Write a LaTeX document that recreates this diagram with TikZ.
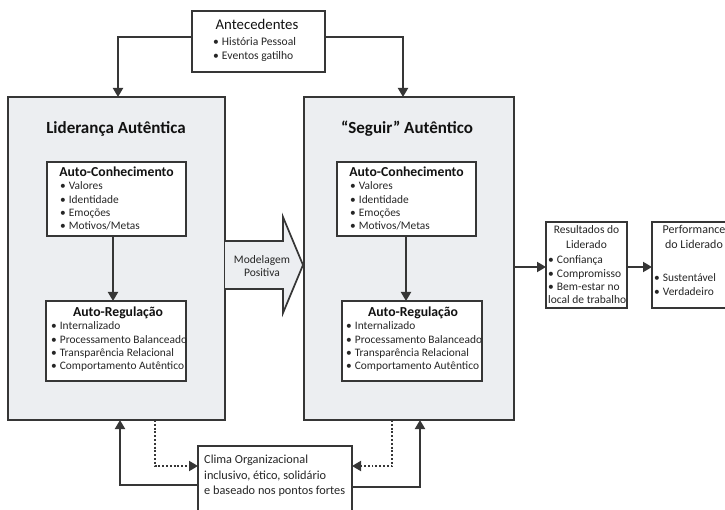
\documentclass[tikz,border=0pt]{standalone}
\usepackage{fontspec}
\setmainfont{Carlito}
\usetikzlibrary{arrows.meta,calc}
\definecolor{ink}{HTML}{363636}
\definecolor{panel}{HTML}{ECEEF1}
\definecolor{txt}{HTML}{111111}
\definecolor{itemtxt}{HTML}{262626}
\newcommand\ptitem[1]{\textbullet\hspace{3pt}#1}

\begin{document}
\begin{tikzpicture}[x=1pt,y=-1pt,
  box/.style={draw=ink,line width=1.8pt,inner sep=0pt,outer sep=0pt,anchor=north west},
  panelbox/.style={box,fill=panel},
  whitebox/.style={box,fill=white,line width=1.7pt},
  conn/.style={draw=ink,line width=1.9pt,-{Triangle[length=9pt,width=10pt]}},
  dotconn/.style={conn,dash pattern=on 1.9pt off 1.9pt},
  bigtitle/.style={font=\fontsize{17}{20}\selectfont\bfseries,text=txt,anchor=base,inner sep=0pt},
  subtitle/.style={font=\fontsize{13.7}{16}\selectfont\bfseries,text=txt,anchor=base,inner sep=0pt},
  itemlist/.style={font=\fontsize{11.4}{13.4}\selectfont,text=itemtxt,align=left,anchor=north west,inner sep=0pt},
]
\useasboundingbox (0,0) rectangle (725,510);
\clip (0,0) rectangle (725,510);

% main panels
\node[panelbox,minimum width=217pt,minimum height=323pt] (lider) at (8,97) {};
\node[panelbox,minimum width=210pt,minimum height=323pt] (seguir) at (304,97) {};

% "Modelagem Positiva" block arrow between the panels
\filldraw[fill=panel,draw=ink,line width=1.7pt,line join=miter]
  (225,241) -- (283,241) -- (283,217) -- (303,265) -- (283,313) -- (283,289) -- (225,289);
\node[font=\fontsize{11.5}{13}\selectfont,text=itemtxt,align=center,inner sep=0pt] (modelo) at (262,266) {Modelagem\\Positiva};

% antecedents
\node[box,fill=white,minimum width=133pt,minimum height=61pt] (ante) at (192,11) {};
\node[font=\fontsize{14.8}{17}\selectfont,text=txt,anchor=base,inner sep=0pt] (antetitle) at (257,30) {Antecedentes};
\node[itemlist,font=\fontsize{11.6}{14}\selectfont] (antelist) at (213,37.5) {\ptitem{História Pessoal}\\\ptitem{Eventos gatilho}};

% panel titles
\node[bigtitle] (lidertitle) at (116,134) {Liderança Autêntica};
\node[bigtitle] (seguirtitle) at (407,134) {“Seguir” Autêntico};

% inner boxes, left panel
\node[whitebox,minimum width=139pt,minimum height=74pt] (akL) at (47,162) {};
\node[subtitle] (akLtitle) at (116.5,177) {Auto-Conhecimento};
\node[itemlist] (akLlist) at (60,181.5) {\ptitem{Valores}\\\ptitem{Identidade}\\\ptitem{Emoções}\\\ptitem{Motivos/Metas}};

\node[whitebox,minimum width=140pt,minimum height=80pt] (arL) at (46,301) {};
\node[subtitle] (arLtitle) at (118,317) {Auto-Regulação};
\node[itemlist] (arLlist) at (51,321.5) {\ptitem{Internalizado}\\\ptitem{Processamento Balanceado}\\\ptitem{Transparência Relacional}\\\ptitem{Comportamento Autêntico}};

% inner boxes, right panel
\node[whitebox,minimum width=139pt,minimum height=74pt] (akR) at (337,162) {};
\node[subtitle] (akRtitle) at (406.5,177) {Auto-Conhecimento};
\node[itemlist] (akRlist) at (350,181.5) {\ptitem{Valores}\\\ptitem{Identidade}\\\ptitem{Emoções}\\\ptitem{Motivos/Metas}};

\node[whitebox,minimum width=140pt,minimum height=80pt] (arR) at (342,301) {};
\node[subtitle] (arRtitle) at (413,317) {Auto-Regulação};
\node[itemlist] (arRlist) at (346,321.5) {\ptitem{Internalizado}\\\ptitem{Processamento Balanceado}\\\ptitem{Transparência Relacional}\\\ptitem{Comportamento Autêntico}};

% outcomes
\node[whitebox,minimum width=81pt,minimum height=86pt] (res) at (546,222) {};
\node[font=\fontsize{11.5}{14.5}\selectfont,text=itemtxt,align=center,anchor=north,inner sep=0pt] (restitle) at (586.5,225.5) {Resultados do\\Liderado};
\node[itemlist,font=\fontsize{11.5}{13.4}\selectfont] (reslist) at (548,255.5) {\ptitem{Confiança}\\\ptitem{Compromisso}\\\ptitem{Bem-estar no}\\local de trabalho};

\node[whitebox,minimum width=82pt,minimum height=86pt] (perf) at (652,222) {};
\node[font=\fontsize{12}{14.5}\selectfont,text=itemtxt,align=center,anchor=north,inner sep=0pt] (perftitle) at (694,225.5) {Performance\\do Liderado};
\node[itemlist] (perflist) at (654,273.5) {\ptitem{Sustentável}\\\ptitem{Verdadeiro}};

% organisational climate
\node[whitebox,minimum width=154pt,minimum height=80pt] (clima) at (198,446) {};
\node[itemlist,font=\fontsize{12.3}{15.5}\selectfont] (climatext) at (204,455) {Clima Organizacional\\inclusivo, ético, solidário\\e baseado nos pontos fortes};

% bend points of the connectors
\coordinate (aL) at (118,37);
\coordinate (aR) at (403,37);
\coordinate (kL) at (113,0);
\coordinate (kR) at (406,0);
\coordinate (cL) at (120,485);
\coordinate (dL) at (155,466);
\coordinate (dR) at (392,466);
\coordinate (cR) at (420,487);
\coordinate (rY) at (0,267);

% connectors
\draw[conn] (ante.west |- aL) -| (aL |- lider.north);
\draw[conn] (ante.east |- aR) -| (aR |- seguir.north);
\draw[conn] (kL |- akL.south) -- (kL |- arL.north);
\draw[conn] (kR |- akR.south) -- (kR |- arR.north);
\draw[conn] (seguir.east |- rY) -- (res.west |- rY);
\draw[conn] (res.east |- rY) -- (perf.west |- rY);
\draw[conn] (clima.west |- cL) -| (cL |- lider.south);
\draw[dotconn] (dL |- lider.south) |- (clima.west |- dL);
\draw[dotconn] (dR |- seguir.south) |- (clima.east |- dR);
\draw[conn] (clima.east |- cR) -| (cR |- seguir.south);
\end{tikzpicture}
\end{document}
